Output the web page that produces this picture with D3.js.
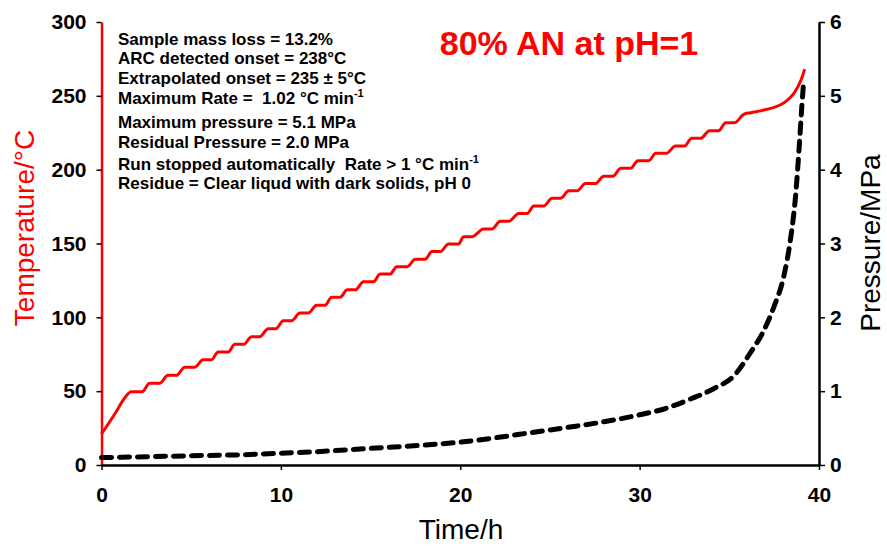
<!DOCTYPE html>
<html>
<head>
<meta charset="utf-8">
<script src="https://cdn.jsdelivr.net/npm/d3@7"></script>
<style>
  body { margin: 0; background: #fff; }
  svg { display: block; font-family: "Liberation Sans", Arial, sans-serif; }
</style>
</head>
<body>
<div id="chart"></div>
<script>
// temperature trace (heat-wait-search steps), time in h, temperature in °C
var tempTime = [0, 0.82, 1.28, 1.66, 2.27, 2.68, 3.24, 3.70, 4.17, 4.64, 5.20, 5.66, 6.13, 6.50, 7.06,
  7.43, 7.93, 8.36, 8.83, 9.29, 9.72, 10.13, 10.60, 11.06, 11.53, 11.99, 12.46, 12.83, 13.30,
  13.70, 14.15, 14.60, 15.16, 15.53, 16.09, 16.46, 17.05, 17.49, 18.04, 18.42, 18.88, 19.35, 19.91,
  20.18, 20.65, 21.30, 21.77, 22.23, 22.70, 23.26, 23.73, 24.10, 24.65, 25.12, 25.59, 26.05, 26.52,
  26.98, 27.54, 28.00, 28.50, 28.95, 29.50, 29.90, 30.50, 30.90, 31.50, 32.00, 32.50, 32.90, 33.40,
  33.90, 34.40, 34.80, 35.30, 35.80, 36.20, 36.80, 37.50, 38.06, 38.60, 39.00, 39.20];
var tempValue = [21, 36.1, 45.2, 49.6, 49.6, 55.3, 55.3, 60.7, 60.7, 66.2, 66.2, 71.3, 71.3, 76.5, 76.5,
  81.7, 81.7, 86.9, 86.9, 92.3, 92.3, 97.7, 97.7, 102.9, 102.9, 108.1, 108.1, 113.6, 113.6,
  118.6, 118.6, 124.1, 124.1, 129.3, 129.3, 134.3, 134.3, 139.3, 139.3, 144.5, 144.5, 149.7, 149.7,
  154.6, 154.6, 159.8, 159.8, 165.0, 165.0, 170.4, 170.4, 175.4, 175.4, 180.6, 180.6, 185.7, 185.7,
  190.6, 190.6, 195.5, 195.5, 200.9, 200.9, 206.1, 206.1, 211.1, 211.1, 216.0, 216.0, 221.2, 221.2,
  226.4, 226.4, 231.8, 231.8, 237.5, 238.6, 240.0, 242.2, 245.4, 251.7, 260.7, 268.0];

// pressure trace, time in h, pressure in MPa
var pressTime = [0, 2, 5, 8, 10, 12, 14, 16, 18, 20, 22, 24, 26, 28, 30, 31.5, 32.8, 34.1, 35.3,
  36.2, 36.9, 37.5, 38.05, 38.4, 38.7, 38.9, 39.05, 39.15];
var pressValue = [0.10, 0.11, 0.125, 0.14, 0.16, 0.18, 0.21, 0.24, 0.27, 0.31, 0.37, 0.44, 0.51, 0.585,
  0.68, 0.77, 0.89, 1.03, 1.22, 1.53, 1.81, 2.15, 2.57, 3.04, 3.66, 4.32, 4.88, 5.21];

var timeTicks = [0, 10, 20, 30, 40];
var tempTicks = [0, 50, 100, 150, 200, 250, 300];
var pressTicks = [0, 1, 2, 3, 4, 5, 6];

var title = "80% AN at pH=1";
// annotation lines: [text, superscript]
var notes = [
  ["Sample mass loss = 13.2%", ""],
  ["ARC detected onset = 238\u00B0C", ""],
  ["Extrapolated onset = 235 \u00B1 5\u00B0C", ""],
  ["Maximum Rate =\u00A0 1.02 \u00B0C min", "-1"],
  ["Maximum pressure = 5.1 MPa", ""],
  ["Residual Pressure = 2.0 MPa", ""],
  ["Run stopped automatically\u00A0 Rate > 1 \u00B0C min", "-1"],
  ["Residue = Clear liqud with dark solids, pH 0", ""]
];
var noteY = [45, 64, 84, 104, 128, 148, 170, 189];

var width = 887, height = 546;
var plot = { left: 101.5, right: 819, top: 22, bottom: 465 };

var svg = d3.select("#chart").append("svg")
  .attr("width", width)
  .attr("height", height);

svg.append("rect").attr("width", width).attr("height", height).attr("fill", "#fff");

var x = d3.scaleLinear().domain([0, 40]).range([plot.left, plot.right]);
var yT = d3.scaleLinear().domain([0, 300]).range([plot.bottom, plot.top]);
var yP = d3.scaleLinear().domain([0, 6]).range([plot.bottom, plot.top]);

// axes
var gLeft = svg.append("g")
  .attr("transform", "translate(" + plot.left + ",0)")
  .call(d3.axisLeft(yT).tickValues(tempTicks).tickSize(5).tickSizeOuter(0).tickPadding(10));
gLeft.select(".domain").attr("stroke", "#ff0000").attr("stroke-width", 2.5);

var gRight = svg.append("g")
  .attr("transform", "translate(" + plot.right + ",0)")
  .call(d3.axisRight(yP).tickValues(pressTicks).tickFormat(d3.format("d"))
    .tickSize(6).tickSizeOuter(0).tickPadding(5));
gRight.select(".domain").attr("stroke", "#000").attr("stroke-width", 2.5);

var gBottom = svg.append("g")
  .attr("transform", "translate(0," + plot.bottom + ")")
  .call(d3.axisBottom(x).tickValues(timeTicks).tickSize(5).tickSizeOuter(0).tickPadding(17));
gBottom.select(".domain").attr("stroke", "#000").attr("stroke-width", 2.5);

svg.selectAll(".tick line").attr("stroke", "#000").attr("stroke-width", 1.5);
svg.selectAll(".tick text")
  .attr("fill", "#000")
  .style("font-family", "'Liberation Sans', Arial, sans-serif")
  .style("font-size", "21px")
  .style("font-weight", "bold");

// axis titles
svg.append("text")
  .attr("transform", "translate(34,228) rotate(-90)")
  .attr("text-anchor", "middle")
  .attr("fill", "#ff0000")
  .style("font-size", "28px")
  .text("Temperature/\u00B0C");

svg.append("text")
  .attr("transform", "translate(880,243) rotate(-90)")
  .attr("text-anchor", "middle")
  .attr("fill", "#000")
  .style("font-size", "28px")
  .text("Pressure/MPa");

svg.append("text")
  .attr("x", 461)
  .attr("y", 539)
  .attr("text-anchor", "middle")
  .attr("fill", "#000")
  .style("font-size", "28px")
  .text("Time/h");

// title
svg.append("text")
  .attr("x", 569)
  .attr("y", 55)
  .attr("text-anchor", "middle")
  .attr("fill", "#ff0000")
  .style("font-size", "34px")
  .style("font-weight", "bold")
  .text(title);

// annotation block
var noteText = svg.append("g")
  .style("font-size", "17px")
  .style("font-weight", "bold")
  .attr("fill", "#000");

notes.forEach(function (n, i) {
  var t = noteText.append("text").attr("x", 118).attr("y", noteY[i]).text(n[0]);
  if (n[1]) {
    t.append("tspan")
      .attr("dy", -7)
      .style("font-size", "11px")
      .text(n[1]);
  }
});

// temperature line
var tempData = tempTime.map(function (t, i) { return [t, tempValue[i]]; });
var pressData = pressTime.map(function (t, i) { return [t, pressValue[i]]; });

svg.append("path")
  .datum(tempData)
  .attr("fill", "none")
  .attr("stroke", "#ff0000")
  .attr("stroke-width", 3)
  .attr("d", d3.line()
    .x(function (d) { return x(d[0]); })
    .y(function (d) { return yT(d[1]); })
    .curve(d3.curveMonotoneX));

// pressure line
svg.append("path")
  .datum(pressData)
  .attr("fill", "none")
  .attr("stroke", "#000")
  .attr("stroke-width", 5)
  .attr("stroke-linecap", "round")
  .attr("stroke-dasharray", "10,8")
  .attr("d", d3.line()
    .x(function (d) { return x(d[0]); })
    .y(function (d) { return yP(d[1]); })
    .curve(d3.curveMonotoneX));
</script>
</body>
</html>
